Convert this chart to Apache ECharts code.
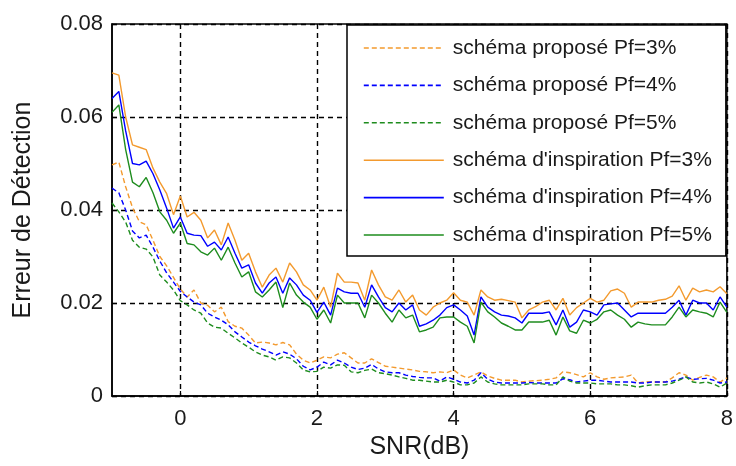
<!DOCTYPE html>
<html>
<head>
<meta charset="utf-8">
<script src="https://cdn.jsdelivr.net/npm/echarts@6/dist/echarts.min.js"></script>
<style>html,body{margin:0;padding:0;background:#fff}#c{width:736px;height:466px}</style>
</head>
<body>
<div id="c"></div>
<script>
// SNR values (dB)
const snr = [];
for (let i = 0; i <= 90; i++) snr.push(+(-1 + i * 0.1).toFixed(1));

const xTicks = [0, 2, 4, 6, 8];
const yTicks = [0, 0.02, 0.04, 0.06, 0.08];

const propPf3 = [0.0497,0.0503,0.0450,0.0405,0.0375,0.0368,0.0335,0.0300,0.0280,0.0255,
0.0230,0.0213,0.0228,0.0200,0.0195,0.0181,0.0191,0.0160,0.0150,0.0146,
0.0131,0.0114,0.0116,0.0114,0.0110,0.0115,0.0110,0.0090,0.0077,0.0071,
0.0077,0.0084,0.0082,0.0090,0.0093,0.0082,0.0071,0.0071,0.0080,0.0072,
0.0064,0.0062,0.0060,0.0058,0.0056,0.0053,0.0052,0.0050,0.0052,0.0050,
0.0056,0.0045,0.0039,0.0045,0.0052,0.0043,0.0038,0.0034,0.0034,0.0034,
0.0030,0.0032,0.0033,0.0034,0.0036,0.0039,0.0052,0.0050,0.0046,0.0041,
0.0050,0.0041,0.0036,0.0039,0.0040,0.0041,0.0045,0.0028,0.0031,0.0030,
0.0030,0.0030,0.0039,0.0050,0.0045,0.0034,0.0040,0.0045,0.0041,0.0030,0.0039];

const propPf4 = [0.0447,0.0437,0.0400,0.0355,0.0340,0.0346,0.0320,0.0290,0.0265,0.0245,
0.0225,0.0213,0.0202,0.0196,0.0178,0.0170,0.0163,0.0153,0.0138,0.0127,
0.0116,0.0108,0.0101,0.0095,0.0088,0.0095,0.0090,0.0080,0.0064,0.0056,
0.0062,0.0073,0.0067,0.0077,0.0071,0.0062,0.0057,0.0060,0.0068,0.0058,
0.0052,0.0050,0.0050,0.0045,0.0042,0.0040,0.0039,0.0039,0.0032,0.0041,
0.0036,0.0030,0.0028,0.0034,0.0050,0.0036,0.0030,0.0028,0.0028,0.0028,
0.0028,0.0029,0.0028,0.0028,0.0028,0.0028,0.0037,0.0035,0.0030,0.0032,
0.0034,0.0034,0.0032,0.0030,0.0030,0.0030,0.0030,0.0028,0.0028,0.0030,
0.0030,0.0030,0.0032,0.0036,0.0041,0.0036,0.0037,0.0038,0.0034,0.0028,0.0030];

const propPf5 = [0.0415,0.0396,0.0374,0.0335,0.0320,0.0316,0.0299,0.0260,0.0245,0.0228,
0.0205,0.0196,0.0185,0.0178,0.0157,0.0148,0.0146,0.0135,0.0125,0.0114,
0.0105,0.0095,0.0088,0.0084,0.0077,0.0084,0.0082,0.0071,0.0056,0.0052,
0.0053,0.0062,0.0060,0.0067,0.0066,0.0052,0.0050,0.0055,0.0058,0.0050,
0.0048,0.0045,0.0041,0.0038,0.0034,0.0034,0.0032,0.0030,0.0030,0.0034,
0.0030,0.0024,0.0024,0.0028,0.0041,0.0030,0.0026,0.0024,0.0024,0.0024,
0.0024,0.0026,0.0026,0.0026,0.0024,0.0024,0.0041,0.0032,0.0028,0.0028,
0.0028,0.0026,0.0026,0.0026,0.0024,0.0024,0.0022,0.0019,0.0022,0.0024,
0.0024,0.0024,0.0028,0.0034,0.0041,0.0030,0.0028,0.0030,0.0026,0.0019,0.0028];

const inspPf3 = [0.0695,0.0690,0.0600,0.0540,0.0535,0.0530,0.0490,0.0460,0.0435,0.0390,
0.0430,0.0385,0.0395,0.0378,0.0340,0.0357,0.0325,0.0372,0.0335,0.0292,
0.0307,0.0267,0.0234,0.0260,0.0275,0.0245,0.0286,0.0267,0.0239,0.0228,
0.0206,0.0234,0.0191,0.0264,0.0245,0.0245,0.0243,0.0206,0.0271,0.0239,
0.0213,0.0206,0.0228,0.0202,0.0217,0.0185,0.0174,0.0191,0.0200,0.0206,
0.0222,0.0206,0.0202,0.0174,0.0228,0.0213,0.0206,0.0208,0.0205,0.0202,
0.0168,0.0185,0.0192,0.0202,0.0206,0.0185,0.0210,0.0174,0.0190,0.0200,
0.0210,0.0202,0.0206,0.0226,0.0230,0.0221,0.0191,0.0202,0.0202,0.0202,
0.0206,0.0208,0.0215,0.0237,0.0206,0.0232,0.0224,0.0228,0.0224,0.0235,0.0220];

const inspPf4 = [0.0640,0.0655,0.0570,0.0500,0.0497,0.0505,0.0478,0.0443,0.0404,0.0361,
0.0385,0.0350,0.0346,0.0345,0.0322,0.0331,0.0314,0.0342,0.0307,0.0275,
0.0282,0.0243,0.0221,0.0243,0.0256,0.0221,0.0254,0.0239,0.0217,0.0206,
0.0180,0.0202,0.0174,0.0232,0.0224,0.0221,0.0221,0.0191,0.0239,0.0213,
0.0190,0.0181,0.0200,0.0185,0.0196,0.0150,0.0155,0.0163,0.0174,0.0190,
0.0196,0.0185,0.0172,0.0131,0.0213,0.0191,0.0181,0.0174,0.0172,0.0168,
0.0157,0.0178,0.0178,0.0178,0.0181,0.0153,0.0185,0.0148,0.0159,0.0185,
0.0181,0.0174,0.0196,0.0198,0.0200,0.0185,0.0170,0.0178,0.0178,0.0178,
0.0178,0.0178,0.0191,0.0206,0.0174,0.0206,0.0200,0.0200,0.0185,0.0213,0.0191];

const inspPf5 = [0.0610,0.0626,0.0530,0.0460,0.0450,0.0470,0.0437,0.0396,0.0378,0.0350,
0.0372,0.0328,0.0325,0.0310,0.0303,0.0318,0.0292,0.0320,0.0286,0.0256,
0.0267,0.0224,0.0213,0.0228,0.0245,0.0190,0.0243,0.0217,0.0202,0.0191,
0.0165,0.0185,0.0157,0.0217,0.0200,0.0200,0.0200,0.0168,0.0217,0.0200,
0.0178,0.0159,0.0185,0.0168,0.0174,0.0138,0.0142,0.0148,0.0168,0.0170,
0.0170,0.0159,0.0150,0.0114,0.0202,0.0181,0.0170,0.0157,0.0150,0.0142,
0.0142,0.0159,0.0159,0.0159,0.0163,0.0131,0.0170,0.0140,0.0135,0.0163,
0.0157,0.0165,0.0181,0.0185,0.0174,0.0165,0.0148,0.0159,0.0155,0.0153,
0.0153,0.0153,0.0170,0.0191,0.0170,0.0185,0.0181,0.0178,0.0170,0.0202,0.0180];

const names = ["schéma proposé Pf=3%","schéma proposé Pf=4%","schéma proposé Pf=5%",
  "schéma d'inspiration Pf=3%","schéma d'inspiration Pf=4%","schéma d'inspiration Pf=5%"];
const colors = ['#F39A2E','#0000FF','#1E8C1E','#F39A2E','#0000FF','#1E8C1E'];
const dataSets = [propPf3, propPf4, propPf5, inspPf3, inspPf4, inspPf5];

const FONT = '"Liberation Sans", Arial, sans-serif';
const chart = echarts.init(document.getElementById('c'), null, {renderer: 'canvas'});

const series = dataSets.map((arr, k) => ({
  name: names[k],
  type: 'line',
  symbol: 'none',
  showSymbol: false,
  animation: false,
  data: arr.map((v, i) => [snr[i], v]),
  lineStyle: { color: colors[k], width: 1.4, type: k < 3 ? [5, 3] : 'solid' },
  itemStyle: { color: colors[k] },
  z: k < 3 ? 3 : 4
}));

chart.setOption({
  animation: false,
  backgroundColor: '#fff',
  grid: { left: 112, right: 6, top: 24, bottom: 70, show: true, borderColor: '#000', borderWidth: 1.5, backgroundColor: 'transparent' },
  xAxis: {
    type: 'value', min: -1, max: 8,
    name: 'SNR(dB)', nameLocation: 'middle', nameGap: 30,
    nameTextStyle: { fontFamily: FONT, fontSize: 25, color: '#1a1a1a' },
    axisLine: { show: true, onZero: false, lineStyle: { color: '#000', width: 1.5 } },
    axisTick: { show: true, inside: true, length: 5, customValues: xTicks, lineStyle: { color: '#000', width: 1.2 } },
    axisLabel: { customValues: xTicks, margin: 12, fontFamily: FONT, fontSize: 22, color: '#1a1a1a' },
    splitLine: { show: true, lineStyle: { color: '#000', width: 1.4, type: [5, 4] } }
  },
  yAxis: {
    type: 'value', min: 0, max: 0.08, interval: 0.02,
    name: 'Erreur de Détection', nameLocation: 'middle', nameGap: 76,
    nameTextStyle: { fontFamily: FONT, fontSize: 25, color: '#1a1a1a' },
    axisLine: { show: true, onZero: false, lineStyle: { color: '#000', width: 1.5 } },
    axisTick: { show: true, inside: true, length: 5, lineStyle: { color: '#000', width: 1.2 } },
    axisLabel: { margin: 9, fontFamily: FONT, fontSize: 22, color: '#1a1a1a',
      formatter: v => yTicks.includes(+v.toFixed(2)) ? String(+v.toFixed(2)) : '' },
    splitLine: { show: true, lineStyle: { color: '#000', width: 1.4, type: [5, 4] } }
  },
  legend: {
    orient: 'vertical', left: 347, top: 25,
    backgroundColor: '#fff', borderColor: '#000', borderWidth: 1.5,
    padding: [12, 14, 10, 16],
    itemWidth: 80, itemHeight: 14, itemGap: 15.4,
    itemStyle: { opacity: 0 },
    lineStyle: { width: 1.6 },
    textStyle: { fontFamily: FONT, fontSize: 21, color: '#1a1a1a', lineHeight: 22, padding: [0, 0, 0, 4] },
    data: names
  },
  series: series
});
</script>
</body>
</html>
